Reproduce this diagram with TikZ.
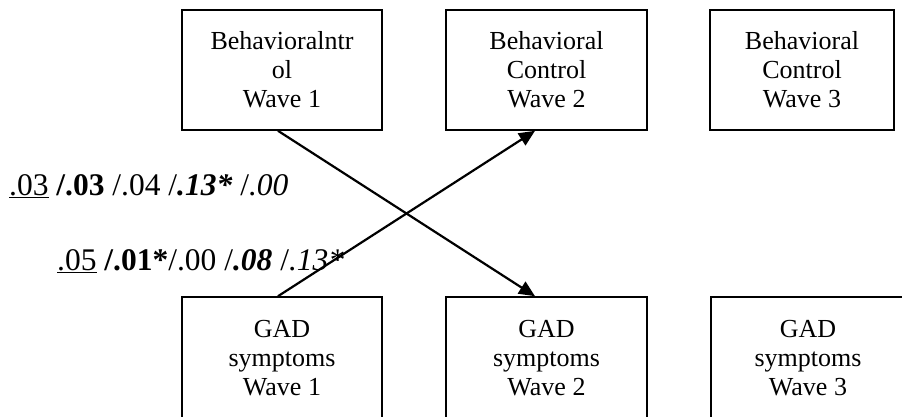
\documentclass[tikz,border=0pt]{standalone}
\usepackage{fontspec}
\setmainfont{Liberation Serif}
\usetikzlibrary{arrows.meta}

\tikzset{
  wavebox/.style={draw, line width=1.6pt, align=center, inner sep=0pt,
    font=\fontsize{26}{29}\selectfont},
  crossarrow/.style={line width=2.2pt, -{Triangle[length=16pt,width=14pt]}},
  coef/.style={anchor=west, inner sep=0pt, font=\fontsize{31.5}{33}\selectfont}
}

\begin{document}
\begin{tikzpicture}[x=1pt,y=1pt]
\def\xone{282}
\def\xtwo{546.5}
\def\xthree{802}

\def\ytop{344}
\def\ybot{58}

\useasboundingbox (0,0) rectangle (902,416);

% behavioral control, top row
\node[wavebox, minimum width=200pt, minimum height=120pt] (bc1) at (\xone, \ytop+2) {Behavioralntr\\ol\\Wave 1};
\node[wavebox, minimum width=201pt, minimum height=120pt] (bc2) at (\xtwo, \ytop+2) {Behavioral\\Control\\Wave 2};
\node[wavebox, minimum width=184pt, minimum height=120pt] (bc3) at (\xthree, \ytop+2) {Behavioral\\Control\\Wave 3};

% GAD symptoms, bottom row (runs off the page)
\node[wavebox, minimum width=200pt, minimum height=122pt] (gad1) at (\xone, \ybot) {GAD\\symptoms\\Wave 1};
\node[wavebox, minimum width=201pt, minimum height=122pt] (gad2) at (\xtwo, \ybot) {GAD\\symptoms\\Wave 2};
\node[wavebox, minimum width=194pt, minimum height=122pt] (gad3) at (\xthree+6, \ybot) {GAD\\symptoms\\Wave 3};

\draw[crossarrow] ([xshift=-4pt]bc1.south) -- ([xshift=-11.5pt]gad2.north);
\draw[crossarrow] ([xshift=-4pt]gad1.north) -- ([xshift=-11.5pt]bc2.south);

\node[coef] (lagbc) at (9, 230) {\underline{.03} \textbf{/.03} /.04 /\textbf{\textit{.13*}} /\textit{.00}};
\node[coef] (laggad) at (57, 155) {\underline{.05} \textbf{/.01*}/.00 /\textbf{\textit{.08}} /\textit{.13*}};

\end{tikzpicture}
\end{document}
